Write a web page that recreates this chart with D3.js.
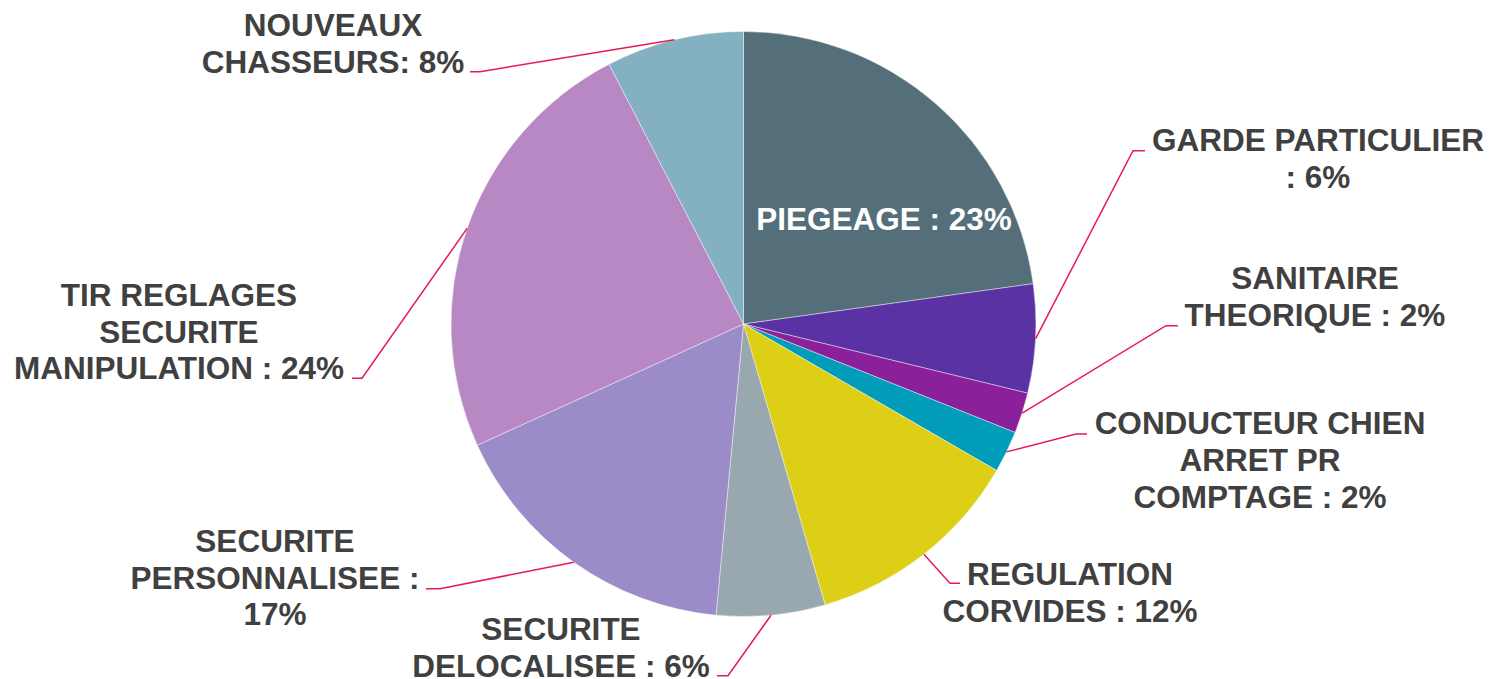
<!DOCTYPE html>
<html>
<head>
<meta charset="utf-8">
<script src="https://cdn.jsdelivr.net/npm/d3@7"></script>
<style>
  html, body { margin: 0; padding: 0; background: #fff; }
  svg { display: block; }
</style>
</head>
<body>
<div id="chart"></div>
<script>
// slices clockwise from 12 o'clock
const categories = [
  "PIEGEAGE", "GARDE PARTICULIER", "SANITAIRE THEORIQUE",
  "CONDUCTEUR CHIEN ARRET PR COMPTAGE", "REGULATION CORVIDES",
  "SECURITE DELOCALISEE", "SECURITE PERSONNALISEE",
  "TIR REGLAGES SECURITE MANIPULATION", "NOUVEAUX CHASSEURS"
];
const values = [22.8, 6.0, 2.25, 2.3, 12.15, 6.0, 16.7, 24.2, 7.6];
const pctLabels = ["23%", "6%", "2%", "2%", "12%", "6%", "17%", "24%", "8%"];

// label text as it wraps in the chart
const labelLines = [
  ["PIEGEAGE : 23%"],
  ["GARDE PARTICULIER", ": 6%"],
  ["SANITAIRE", "THEORIQUE : 2%"],
  ["CONDUCTEUR CHIEN", "ARRET PR", "COMPTAGE : 2%"],
  ["REGULATION", "CORVIDES : 12%"],
  ["SECURITE", "DELOCALISEE : 6%"],
  ["SECURITE", "PERSONNALISEE :", "17%"],
  ["TIR REGLAGES", "SECURITE", "MANIPULATION : 24%"],
  ["NOUVEAUX", "CHASSEURS: 8%"]
];

const colors = ["#546e7a", "#5a32a3", "#8b209b", "#009cba", "#dccf16",
                "#98a8ae", "#9b8bc8", "#b888c4", "#84b1c1"];

const width = 1489, height = 679;
const cx = 743.5, cy = 324, radius = 292.5;
const lineH = 36.8;

// label layout: centre x, first baseline, leader elbow and end (null = inside label)
const labelPos = [
  { x: 884,  y: 230,   leader: null },
  { x: 1318, y: 150.7, leader: [[1133, 150.7], [1145, 150.7]] },
  { x: 1315, y: 289,   leader: [[1166, 325.7], [1178, 325.7]] },
  { x: 1260, y: 434,   leader: [[1076, 434], [1087, 434]] },
  { x: 1070, y: 585,   leader: [[950, 583.3], [960, 583.3]] },
  { x: 561,  y: 640,   leader: [[728, 675.7], [717, 675.7]] },
  { x: 275,  y: 551.7, leader: [[440, 588.7], [426, 588.7]] },
  { x: 179,  y: 305.7, leader: [[362, 378.3], [352, 378.3]] },
  { x: 333,  y: 36,    leader: [[480, 71.7], [470, 71.7]] }
];

const svg = d3.select("#chart").append("svg")
  .attr("width", width)
  .attr("height", height);

const pie = d3.pie().sort(null).value(d => d)(values);

const arc = d3.arc().innerRadius(0).outerRadius(radius);
const edgeArc = d3.arc().innerRadius(radius).outerRadius(radius);

const g = svg.append("g").attr("transform", `translate(${cx},${cy})`);

g.selectAll("path.slice")
  .data(pie)
  .enter()
  .append("path")
  .attr("class", "slice")
  .attr("d", arc)
  .attr("fill", (d, i) => colors[i])
  .attr("stroke", "#ffffff")
  .attr("stroke-width", 0.6)
  .attr("stroke-opacity", 0.7);

// leader lines from the slice edge at its mid angle
const line = d3.line();
pie.forEach((d, i) => {
  const lp = labelPos[i];
  if (!lp.leader) return;
  const c = edgeArc.centroid(d);
  const pts = [[c[0] + cx, c[1] + cy], lp.leader[0], lp.leader[1]];
  svg.append("path")
    .attr("d", line(pts))
    .attr("fill", "none")
    .attr("stroke", "#e8185d")
    .attr("stroke-width", 1.5);
});

// labels
labelLines.forEach((lines, i) => {
  const lp = labelPos[i];
  const t = svg.append("text")
    .attr("text-anchor", "middle")
    .attr("font-family", "'Liberation Sans', Arial, sans-serif")
    .attr("font-weight", "bold")
    .attr("font-size", "31.5px")
    .attr("fill", i === 0 ? "#ffffff" : "#404040");
  lines.forEach((s, k) => {
    t.append("tspan")
      .attr("x", lp.x)
      .attr("y", lp.y + k * lineH)
      .text(s);
  });
});
</script>
</body>
</html>
